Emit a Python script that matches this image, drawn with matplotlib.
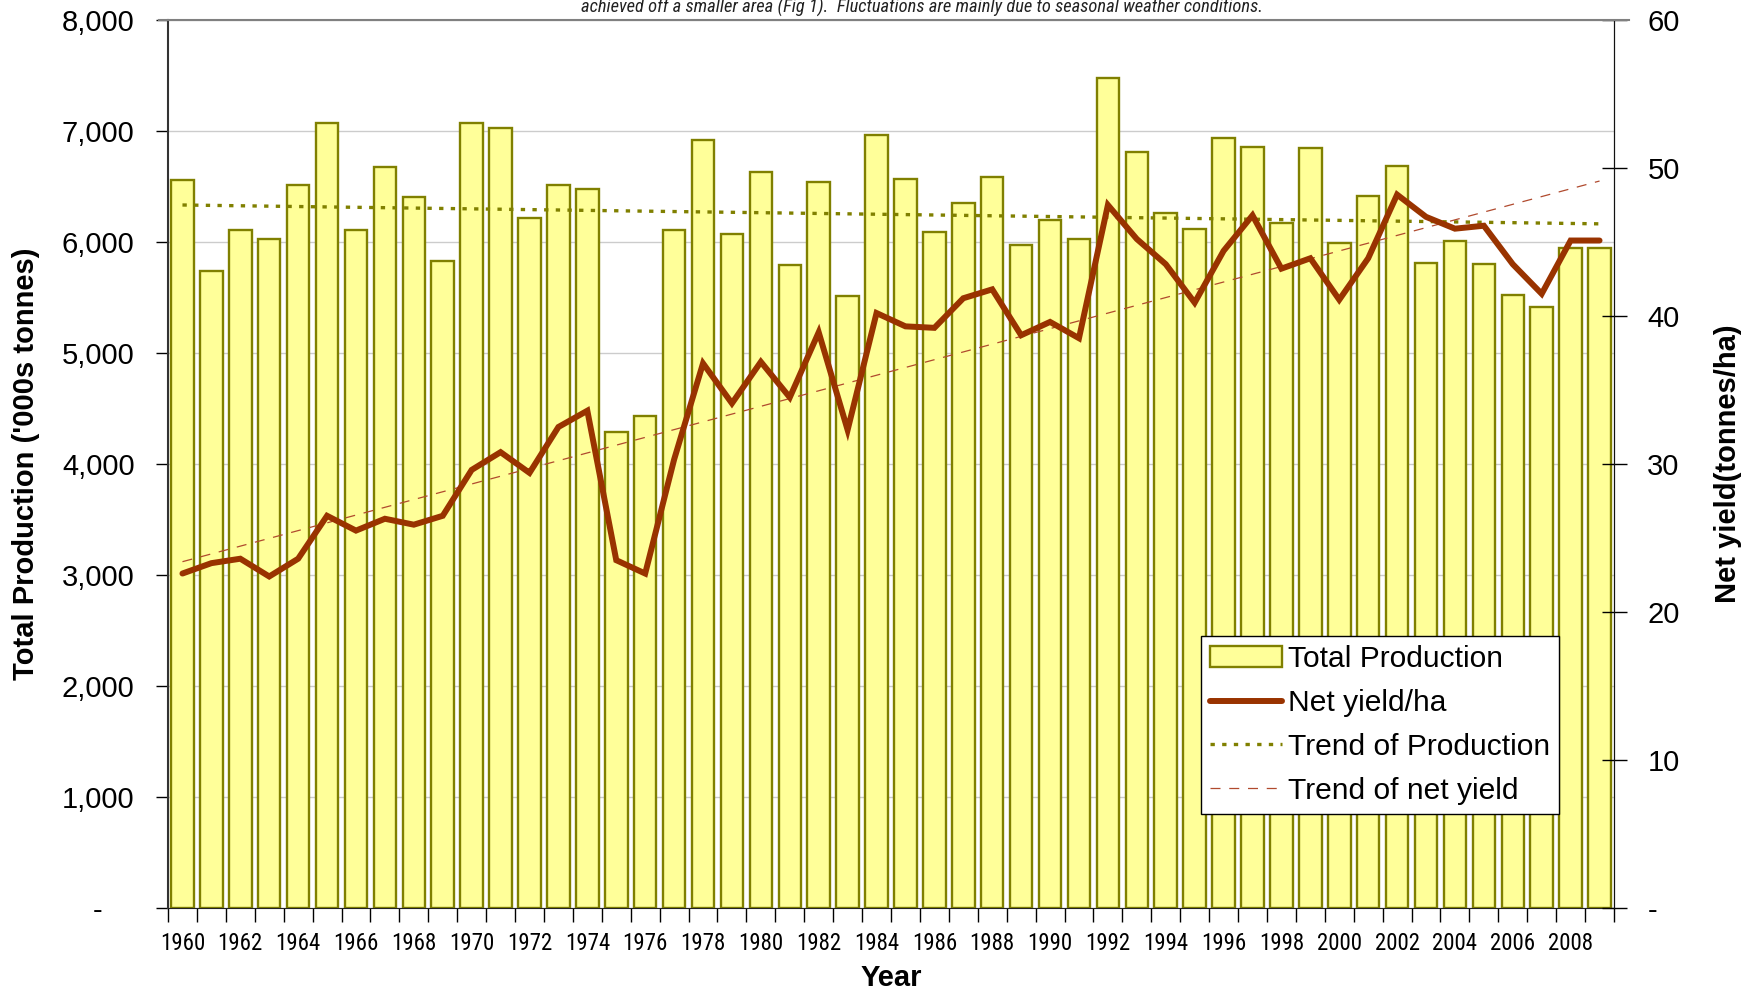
import os
import numpy as np
import matplotlib
matplotlib.use("Agg")
from matplotlib import pyplot as plt
from matplotlib import font_manager
from matplotlib.font_manager import FontProperties
from matplotlib.lines import Line2D

# data
years = list(range(1960, 2010))
production = [6560, 5735, 6110, 6030, 6515, 7070, 6105, 6675, 6405, 5825,
              7075, 7025, 6215, 6515, 6475, 4290, 4430, 6110, 6915, 6075,
              6630, 5795, 6540, 5515, 6965, 6570, 6090, 6355, 6590, 5975,
              6195, 6030, 7480, 6810, 6260, 6120, 6940, 6855, 6170, 6845,
              5995, 6410, 6685, 5810, 6005, 5805, 5525, 5410, 5945, 5950]
net_yield = [22.6, 23.3, 23.6, 22.4, 23.6, 26.5, 25.5, 26.3, 25.9, 26.5,
             29.6, 30.8, 29.4, 32.5, 33.6, 23.5, 22.6, 30.3, 36.8, 34.1,
             36.9, 34.5, 38.9, 32.3, 40.2, 39.3, 39.2, 41.2, 41.8, 38.7,
             39.6, 38.5, 47.5, 45.2, 43.5, 40.9, 44.4, 46.8, 43.2, 43.9,
             41.1, 43.9, 48.2, 46.7, 45.9, 46.1, 43.5, 41.5, 45.1, 45.1]
left_ticks = list(range(0, 8001, 1000))
right_ticks = list(range(0, 61, 10))
note = ("achieved off a smaller area (Fig 1).  Fluctuations are mainly due "
        "to seasonal weather conditions.")

plt.rcParams['font.family'] = ['Liberation Sans', 'DejaVu Sans']


def pick_narrow(italic=False):
    # look for a narrow / condensed sans face among the installed fonts
    prefs = ['Liberation Sans Narrow', 'Roboto Condensed', 'Open Sans Condensed',
             'Noto Sans', 'DejaVu Sans', 'Roboto', 'Open Sans']
    found = []
    for f in font_manager.fontManager.ttflist:
        base = os.path.basename(f.fname)
        st = f.stretch
        narrowish = ('Narrow' in f.name or 'Condensed' in f.name
                     or 'Condensed' in base or 'Narrow' in base
                     or str(st) in ('condensed', 'semi-condensed',
                                    'extra-condensed', 'ultra-condensed')
                     or (isinstance(st, (int, float)) and st < 500))
        if not narrowish or 'Mono' in f.name or 'Serif' in f.name:
            continue
        if (f.style in ('italic', 'oblique')) != italic:
            continue
        if f.weight not in (400, 'normal', 'regular', 'book'):
            continue
        if 'Semi' in base or 'Semi' in str(st):
            continue
        rank = len(prefs)
        for i, p in enumerate(prefs):
            if f.name.startswith(p):
                rank = i
                break
        found.append((rank, f.fname))
    if not found:
        return FontProperties(family=['Liberation Sans'],
                              style='italic' if italic else 'normal')
    found.sort()
    return FontProperties(fname=found[0][1])


W, H = 1756, 992
fig = plt.figure(figsize=(W / 100, H / 100), dpi=100)
renderer = fig.canvas.get_renderer()


def fitted(fp, text, target_px):
    # font size giving the text the same width as in the reference
    p = fp.copy()
    p.set_size(20)
    t = fig.text(0, 0, text, fontproperties=p)
    w = t.get_window_extent(renderer=renderer).width
    t.remove()
    p.set_size(20 * target_px / w)
    return p


year_fp = fitted(pick_narrow(False), '1960', 45)
note_fp = fitted(pick_narrow(True), note, 680)

ax = fig.add_axes([168 / W, 1 - 908 / H, (1614 - 168) / W, 888 / H])
ax2 = ax.twinx()

x = np.arange(len(years))

# trend lines (linear fits, as the spreadsheet trendlines)
p_fit = np.polyfit(x, production, 1)
y_fit = np.polyfit(x, net_yield, 1)

bars = ax.bar(x, production, width=0.78, color='#FFFF99', edgecolor='#808000',
              linewidth=1.7, zorder=2)
p_trend, = ax.plot(x, np.polyval(p_fit, x), color='#808000', lw=2.4,
                   linestyle=(0, (1.3, 2.2)), zorder=3)
y_trend, = ax2.plot(x, np.polyval(y_fit, x), color='#B04A2E', lw=0.9,
                    linestyle=(0, (8, 7)), zorder=2)
y_line, = ax2.plot(x, net_yield, color='#993300', lw=4.3, solid_joinstyle='miter',
                   solid_capstyle='round', zorder=3)

ax.set_xlim(-0.5, len(years) - 0.5)
ax.set_ylim(0, 8000)
ax2.set_ylim(0, 60)

# y axes
ax.set_yticks(left_ticks)
ax.set_yticklabels(['-    '] + [f'{v:,}' for v in left_ticks[1:]])
ax.tick_params(axis='y', direction='out', length=9, width=1, labelsize=21, pad=15)
ax.yaxis.grid(True, color='#CCCCCC', lw=1)
ax.set_axisbelow(True)

ax2.set_yticks(right_ticks)
ax2.set_yticklabels(['-'] + [str(v) for v in right_ticks[1:]])
ax2.tick_params(axis='y', direction='inout', length=18, width=1, labelsize=21, pad=15)

# x axis: ticks between bars, labels every other year under the bars
ax.set_xticks(np.arange(-0.5, len(years), 1))
ax.set_xticklabels([])
ax.tick_params(axis='x', which='major', direction='out', length=10, width=1)
ax.set_xticks(x[::2], minor=True)
ax.set_xticklabels([str(v) for v in years[::2]], minor=True,
                   fontproperties=year_fp)
ax.tick_params(axis='x', which='minor', length=0, pad=17)

for a in (ax, ax2):
    a.spines['top'].set_visible(False)
ax.spines['left'].set_color('#333333')
ax.spines['left'].set_linewidth(1.5)
ax.spines['bottom'].set_color('#222222')
ax2.spines['right'].set_color('#111111')
ax2.spines['left'].set_visible(False)
ax2.spines['bottom'].set_visible(False)

# labels
fig.text(26 / W, 1 - 464 / H, "Total Production ('000s tonnes)", rotation=90,
         ha='center', va='center', fontsize=21, fontweight='bold')
fig.text(1728 / W, 1 - 464 / H, "Net yield(tonnes/ha)", rotation=90,
         ha='center', va='center', fontsize=21, fontweight='bold')
fig.text(891 / W, 1 - 978 / H, "Year", ha='center', va='center',
         fontsize=21, fontweight='bold')

# note text cut off at the top, with the rule under it
fig.text(922 / W, 1 - 13 / H, note, ha='center', va='baseline',
         fontproperties=note_fp, style='italic', color='#222222')
fig.add_artist(Line2D([159 / W, 1629 / W], [1 - 20 / H, 1 - 20 / H],
                      color='#808080', lw=1.5))

leg = ax2.legend([bars, y_line, p_trend, y_trend],
                 ['Total Production', 'Net yield/ha', 'Trend of Production',
                  'Trend of net yield'],
                 loc='lower right', bbox_to_anchor=(0.962, 0.106), fontsize=21.6,
                 frameon=True, fancybox=False, edgecolor='black', framealpha=1,
                 handlelength=2.4, handletextpad=0.2, labelspacing=0.53,
                 borderpad=0.3, borderaxespad=0)
leg.get_frame().set_linewidth(1)

fig.savefig('out.png', dpi=100)
